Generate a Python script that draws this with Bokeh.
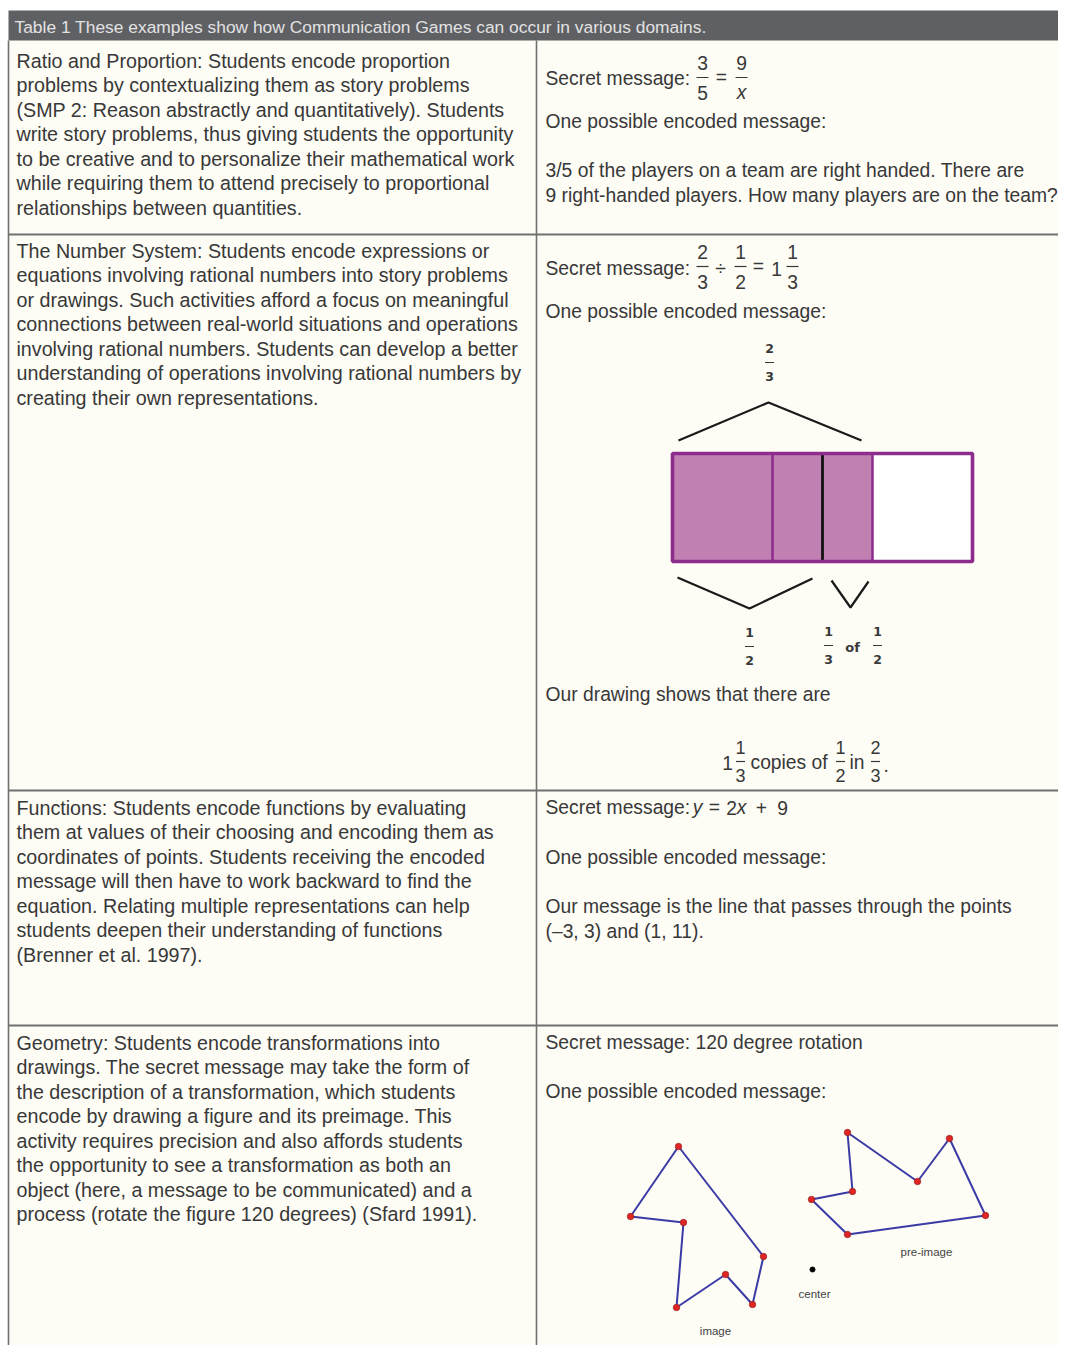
from bokeh.plotting import figure
from bokeh.models import Range1d
from bokeh.core.properties import value
from bokeh.embed import file_html
from bokeh.resources import INLINE

FONT = "Liberation Sans"
TXT = "#383838"
LINE = "#707070"

# ---------------- data (text + drawings) ----------------
header = "Table 1 These examples show how Communication Games can occur in various domains."

row_tops = [40, 234, 790, 1025]          # row boundaries (px in reference)
col_split = 536

row1_left = [
    "Ratio and Proportion: Students encode proportion",
    "problems by contextualizing them as story problems",
    "(SMP 2: Reason abstractly and quantitatively). Students",
    "write story problems, thus giving students the opportunity",
    "to be creative and to personalize their mathematical work",
    "while requiring them to attend precisely to proportional",
    "relationships between quantities.",
]
row2_left = [
    "The Number System: Students encode expressions or",
    "equations involving rational numbers into story problems",
    "or drawings. Such activities afford a focus on meaningful",
    "connections between real-world situations and operations",
    "involving rational numbers. Students can develop a better",
    "understanding of operations involving rational numbers by",
    "creating their own representations.",
]
row3_left = [
    "Functions: Students encode functions by evaluating",
    "them at values of their choosing and encoding them as",
    "coordinates of points. Students receiving the encoded",
    "message will then have to work backward to find the",
    "equation. Relating multiple representations can help",
    "students deepen their understanding of functions",
    "(Brenner et al. 1997).",
]
row4_left = [
    "Geometry: Students encode transformations into",
    "drawings. The secret message may take the form of",
    "the description of a transformation, which students",
    "encode by drawing a figure and its preimage. This",
    "activity requires precision and also affords students",
    "the opportunity to see a transformation as both an",
    "object (here, a message to be communicated) and a",
    "process (rotate the figure 120 degrees) (Sfard 1991).",
]
left_starts = [60, 250, 807, 1042]

secret_label = "Secret message:"
encoded_label = "One possible encoded message:"
row1_story = [
    "3/5 of the players on a team are right handed. There are",
    "9 right-handed players. How many players are on the team?",
]
row2_conclusion = "Our drawing shows that there are"
row3_story = [
    "Our message is the line that passes through the points",
    "(\u20133, 3) and (1, 11).",
]
row4_secret = "Secret message: 120 degree rotation"

# bar model: whole = 1, thirds, one half marker, shaded 2/3
bar_thirds = [1 / 3, 2 / 3]
bar_half = 1 / 2
bar_shaded = 2 / 3

# rotation drawing (vertices)
image_x = [678, 763, 752, 725, 676, 683, 630]
image_y = [1146, 1256, 1304, 1274, 1307, 1222, 1216]
pre_x = [847, 917, 949, 985, 847, 811, 852]
pre_y = [1132, 1181, 1138, 1215, 1234, 1199, 1191]
center_x = [812]
center_y = [1269]
geo_labels = ["pre-image", "center", "image"]

# ---------------- figure ----------------
W, H = 1058, 1345
p = figure(width=W, height=H, output_backend="svg", toolbar_location=None,
           x_range=Range1d(0, W), y_range=Range1d(H, 0),
           min_border=0, outline_line_color=None)
p.axis.visible = False
p.grid.visible = False
p.background_fill_color = "white"
p.border_fill_color = "white"

# cream body + header bar
p.quad(left=[8], right=[W + 10], top=[row_tops[0]], bottom=[H + 10],
       fill_color="#fdfcf5", line_color=None)
p.quad(left=[8], right=[W + 10], top=[10], bottom=[row_tops[0]],
       fill_color="#5f6064", line_color=None)

FS = 19.3
FS_LEFT = 19.7


def txt(x, y, s, size=FS, color=TXT, align="left", style="normal", font=FONT):
    p.text(x=[x], y=[y], text=[s], text_font=value(font), text_font_size=f"{size}px",
           text_color=color, text_align=align, text_baseline="middle",
           text_font_style=style)


txt(14, 26, header, size=17.4, color="#e2e2e2")

# grid lines
p.segment(x0=[8] * 3, y0=row_tops[1:], x1=[W + 10] * 3, y1=row_tops[1:],
          line_color=LINE, line_width=2)
p.segment(x0=[8, col_split], y0=[row_tops[0]] * 2, x1=[8, col_split], y1=[H + 10] * 2,
          line_color=LINE, line_width=1.6)

# left column texts
for lines, y0 in zip([row1_left, row2_left, row3_left, row4_left], left_starts):
    for i, s in enumerate(lines):
        txt(16, y0 + i * 24.55, s, size=FS_LEFT)


def frac(x, y, num, den, size=FS, gap=15, w=12, style="normal", font=FONT, lw=1.2):
    txt(x, y - gap, num, size=size, align="center", style=style, font=font)
    txt(x, y + gap, den, size=size, align="center", style=style, font=font)
    p.segment(x0=[x - w / 2], y0=[y], x1=[x + w / 2], y1=[y], line_color=TXT, line_width=lw)


RX = 545
# ---- row 1 right
txt(RX, 78, secret_label)
frac(702, 77, "3", "5")
txt(721, 77, "=", align="center")
frac(741, 77, "9", "", w=12)
txt(741, 92, "x", align="center", style="italic")
txt(RX, 121, encoded_label)
for i, s in enumerate(row1_story):
    txt(RX, 170 + i * 24.5, s)

# ---- row 2 right
txt(RX, 268, secret_label)
frac(702, 266, "2", "3")
txt(720, 268, "\u00f7", align="center")
frac(740, 266, "1", "2")
txt(758, 266, "=", align="center")
txt(776, 268, "1", align="center")
frac(792, 266, "1", "3")
txt(RX, 311, encoded_label)

# bar model drawing
BX0, BX1, BT, BB = 672, 972, 453, 561
bw = BX1 - BX0
p.quad(left=[BX0], right=[BX0 + bw * bar_shaded], top=[BT], bottom=[BB],
       fill_color="#c080b2", line_color=None)
p.quad(left=[BX0 + bw * bar_shaded], right=[BX1], top=[BT], bottom=[BB],
       fill_color="white", line_color=None)
p.segment(x0=[BX0 + bw * t for t in bar_thirds], y0=[BT] * 2,
          x1=[BX0 + bw * t for t in bar_thirds], y1=[BB] * 2,
          line_color="#8e2c8e", line_width=2.5)
p.segment(x0=[BX0 + bw * bar_half], y0=[BT], x1=[BX0 + bw * bar_half], y1=[BB],
          line_color="#111111", line_width=2.8)
p.quad(left=[BX0], right=[BX1], top=[BT], bottom=[BB],
       fill_color=None, line_color="#8e2c8e", line_width=3.6)

# braces
p.line(x=[678, 768, 861], y=[440, 402, 440], line_color="#1a1a1a", line_width=2.2)
p.line(x=[677, 749, 812], y=[577, 608, 578], line_color="#1a1a1a", line_width=2.2)
p.line(x=[831, 850, 868], y=[580, 607, 581], line_color="#1a1a1a", line_width=2.2)

DF = "DejaVu Sans"
frac(769, 362, "2", "3", size=12.5, gap=14, w=9, style="bold", font=DF, lw=1)
frac(749, 646, "1", "2", size=12.5, gap=14, w=9, style="bold", font=DF, lw=1)
frac(828, 645, "1", "3", size=12.5, gap=14, w=9, style="bold", font=DF, lw=1)
txt(852, 647, "of", size=13, style="bold", align="center", font=DF)
frac(877, 645, "1", "2", size=12.5, gap=14, w=9, style="bold", font=DF, lw=1)

txt(RX, 694, row2_conclusion)
txt(727, 762, "1", align="center")
frac(740, 761, "1", "3", size=18, gap=14, w=9)
txt(750, 762, "copies of")
frac(840, 761, "1", "2", size=18, gap=14, w=9)
txt(849, 762, "in")
frac(875, 761, "2", "3", size=18, gap=14, w=9)
txt(883, 764, ".")

# ---- row 3 right
txt(RX, 807, secret_label)
txt(697, 807, "y", align="center", style="italic")
txt(714, 807, "=", align="center")
txt(731, 807, "2", align="center")
txt(741, 807, "x", align="center", style="italic")
txt(761, 807, "+", align="center")
txt(782, 807, "9", align="center")
txt(RX, 857, encoded_label)
for i, s in enumerate(row3_story):
    txt(RX, 906 + i * 24.5, s)

# ---- row 4 right
txt(RX, 1042, row4_secret)
txt(RX, 1091, encoded_label)

p.line(x=image_x + image_x[:1], y=image_y + image_y[:1], line_color="#3b3ba6", line_width=2)
p.line(x=pre_x + pre_x[:1], y=pre_y + pre_y[:1], line_color="#3b3ba6", line_width=2)
p.scatter(x=image_x + pre_x, y=image_y + pre_y, size=6.5, fill_color="#e02525",
          line_color="#8a1a1a", line_width=0.6)
p.scatter(x=center_x, y=center_y, size=5, fill_color="black", line_color="black")
for lab, (lx, ly) in zip(geo_labels, [(926, 1251), (814, 1293), (715, 1330)]):
    txt(lx, ly, lab, size=11.5, color="#444444", align="center")

open("out.html", "w").write(file_html(p, INLINE))
